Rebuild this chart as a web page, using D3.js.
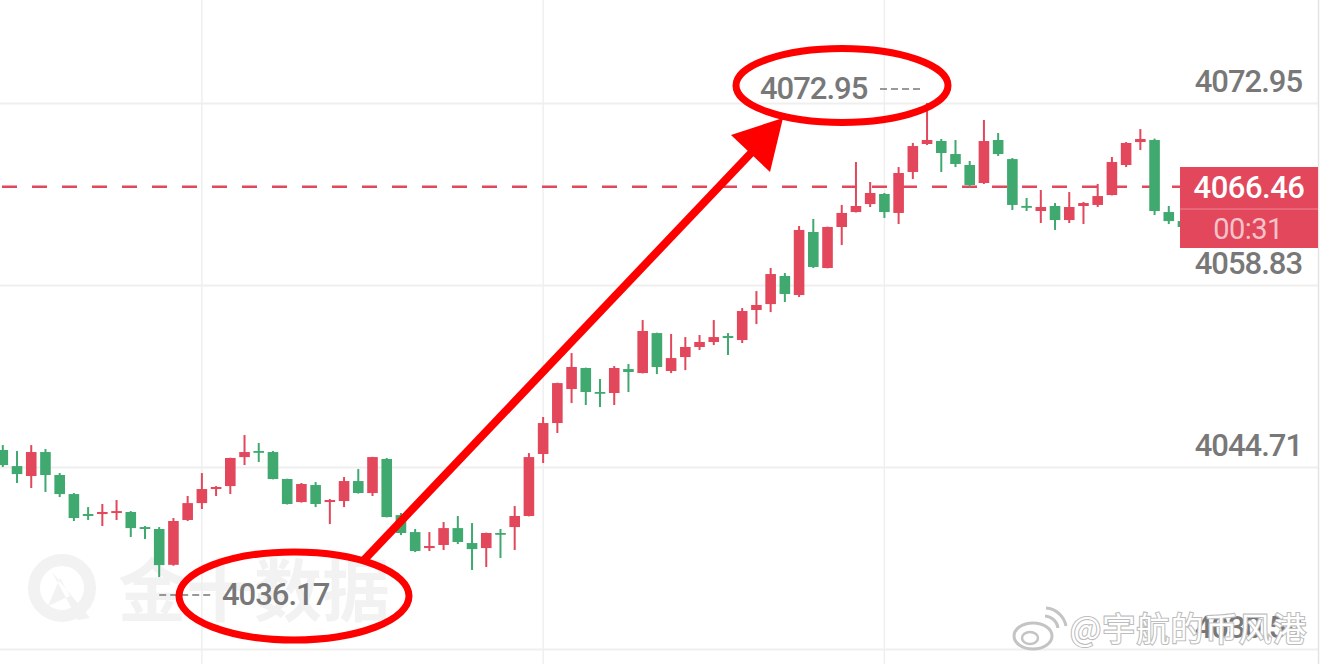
<!DOCTYPE html>
<html>
<head>
<meta charset="utf-8">
<script src="https://cdn.jsdelivr.net/npm/d3@7"></script>
<style>
  body { margin: 0; background: #fff; }
  svg { display: block; }
</style>
</head>
<body>
<svg id="chart" width="1320" height="664"></svg>
<script>
// candle data, left to right (red = up, green = down)
var open = [4046.03, 4044.78, 4044.01, 4045.87, 4044.09, 4042.61, 4041.06, 4041.06, 4041.14, 4041.22,
  4040.05, 4039.90, 4037.12, 4040.60, 4041.91, 4043.00, 4043.23, 4045.48, 4045.95, 4045.87,
  4043.78, 4041.99, 4043.31, 4041.99, 4042.07, 4043.62, 4042.69, 4045.33, 4040.98, 4039.66,
  4038.42, 4038.66, 4039.97, 4038.81, 4038.42, 4039.59, 4040.05, 4040.91, 4045.72, 4048.12,
  4050.76, 4052.39, 4050.53, 4050.45, 4052.31, 4052.00, 4055.10, 4052.16, 4053.24, 4054.02,
  4054.41, 4054.87, 4054.56, 4056.89, 4057.35, 4059.53, 4058.05, 4062.94, 4060.15, 4063.33,
  4064.49, 4065.11, 4065.89, 4064.42, 4067.60, 4069.77, 4070.00, 4068.99, 4068.14, 4066.74,
  4070.08, 4068.60, 4064.96, 4064.57, 4064.96, 4063.87, 4064.96, 4065.04, 4065.81, 4068.14,
  4069.92, 4070.08, 4064.49, 4063.79];
var high = [4046.41, 4045.95, 4046.41, 4046.10, 4044.24, 4042.69, 4041.60, 4041.84, 4042.15, 4041.29,
  4040.13, 4040.05, 4040.75, 4042.46, 4044.24, 4043.23, 4045.43, 4047.19, 4046.57, 4045.95,
  4043.80, 4043.47, 4043.54, 4042.22, 4043.93, 4044.55, 4045.50, 4045.41, 4041.14, 4039.90,
  4039.66, 4040.44, 4040.91, 4040.36, 4039.62, 4039.90, 4041.68, 4045.79, 4048.59, 4051.25,
  4053.55, 4052.42, 4051.54, 4052.54, 4052.70, 4056.11, 4055.13, 4055.03, 4054.79, 4054.95,
  4056.11, 4055.10, 4057.04, 4058.36, 4060.15, 4059.76, 4063.41, 4063.95, 4063.36, 4065.04,
  4068.37, 4066.82, 4065.97, 4067.98, 4069.85, 4072.95, 4070.16, 4070.08, 4068.45, 4071.63,
  4070.62, 4068.68, 4065.58, 4066.20, 4065.19, 4066.04, 4065.27, 4066.67, 4068.76, 4069.92,
  4070.93, 4070.19, 4064.96, 4064.10];
var low = [4044.71, 4043.47, 4043.08, 4042.77, 4042.38, 4040.52, 4040.60, 4040.13, 4040.60, 4039.28,
  4039.12, 4036.17, 4037.05, 4040.52, 4041.45, 4042.46, 4042.61, 4044.86, 4045.10, 4043.75,
  4041.80, 4041.95, 4041.60, 4040.28, 4041.60, 4042.65, 4042.46, 4040.80, 4039.43, 4038.11,
  4038.19, 4038.27, 4038.73, 4036.72, 4036.95, 4037.65, 4038.27, 4040.88, 4045.02, 4047.35,
  4049.67, 4049.52, 4049.36, 4049.52, 4050.53, 4051.97, 4051.92, 4052.00, 4052.23, 4053.79,
  4054.17, 4053.40, 4054.33, 4055.80, 4056.73, 4057.51, 4057.90, 4060.15, 4060.12, 4061.93,
  4064.46, 4064.88, 4064.03, 4063.56, 4067.05, 4069.69, 4067.60, 4067.98, 4066.43, 4066.67,
  4068.84, 4064.65, 4064.57, 4063.64, 4063.10, 4063.64, 4063.56, 4064.88, 4065.78, 4067.98,
  4069.30, 4064.26, 4063.56, 4063.10];
var close = [4044.86, 4044.16, 4045.87, 4044.09, 4042.61, 4040.75, 4040.91, 4041.22, 4041.29, 4039.97,
  4039.90, 4037.10, 4040.52, 4041.91, 4043.00, 4043.16, 4045.41, 4045.87, 4045.87, 4043.78,
  4041.84, 4043.39, 4041.84, 4042.15, 4043.62, 4042.69, 4045.48, 4040.83, 4039.59, 4038.19,
  4038.58, 4039.97, 4038.89, 4038.34, 4039.59, 4039.51, 4040.91, 4045.48, 4048.12, 4051.22,
  4052.47, 4050.53, 4050.45, 4052.39, 4052.08, 4055.26, 4052.47, 4053.16, 4054.02, 4054.41,
  4054.79, 4054.72, 4056.81, 4057.28, 4059.68, 4058.13, 4063.10, 4060.23, 4063.33, 4064.42,
  4064.96, 4065.97, 4064.49, 4067.52, 4069.61, 4070.08, 4069.07, 4068.22, 4066.59, 4070.00,
  4068.99, 4065.04, 4064.88, 4064.88, 4063.87, 4064.88, 4065.19, 4065.73, 4068.37, 4069.85,
  4070.16, 4064.57, 4063.79, 4063.33];

var priceTicks = [4072.95, 4058.83, 4044.71, 4030.59];
var timeGridIndex = [14, 38, 62];
var lastPrice = 4066.46;
var countdown = "00:31";
var maxLabel = "4072.95";
var minLabel = "4036.17";
var jinWatermark = "金十数据";
var weiboMark = "@宇航的币风港";

var RED = "#e2475b", GREEN = "#3fa96f", GRID = "#efefef", TXT = "#787878";
var W = 1320, H = 664, plotRight = 1318;

var svg = d3.select("#chart");
var candles = d3.range(open.length).map(function (i) {
  return { i: i, o: open[i], h: high[i], l: low[i], c: close[i] };
});

var y = d3.scaleLinear().domain([4030.59, 4072.95]).range([649, 103]);
var x = d3.scaleLinear().domain([0, candles.length - 1]).range([2.8, 1183]);
var bodyW = 10.6;

// --- watermark (jin10)
var wm = svg.append("g").attr("fill", "#f2f2f2");
wm.append("circle").attr("cx", 62).attr("cy", 588).attr("r", 28)
  .attr("fill", "none").attr("stroke", "#f2f2f2").attr("stroke-width", 12);
wm.append("path").attr("d", "M52,572 L90,618 L78,620 Z M60,578 L48,606 L70,596 Z");
wm.append("text").attr("x", 118).attr("y", 616)
  .attr("font-family", "Noto Sans CJK SC").attr("font-weight", 700)
  .attr("font-size", 68).text(jinWatermark);

// --- grid
svg.append("g").selectAll("line").data(priceTicks).enter().append("line")
  .attr("x1", 0).attr("x2", plotRight)
  .attr("y1", function (d) { return Math.round(y(d)) + 0.5; })
  .attr("y2", function (d) { return Math.round(y(d)) + 0.5; })
  .attr("stroke", GRID).attr("stroke-width", 2);

svg.append("g").selectAll("line").data(timeGridIndex).enter().append("line")
  .attr("x1", function (d) { return x(d); }).attr("x2", function (d) { return x(d); })
  .attr("y1", 0).attr("y2", H)
  .attr("stroke", GRID).attr("stroke-width", 1.5);

svg.append("line").attr("x1", plotRight + 0.5).attr("x2", plotRight + 0.5)
  .attr("y1", 0).attr("y2", H).attr("stroke", "#e4e4e4").attr("stroke-width", 1.5);

// --- current price dashed line
svg.append("line")
  .attr("x1", 2).attr("x2", 1180)
  .attr("y1", y(lastPrice)).attr("y2", y(lastPrice))
  .attr("stroke", RED).attr("stroke-width", 2.5)
  .attr("stroke-dasharray", "15,15");

// --- candles
var g = svg.append("g");
var k = g.selectAll("g").data(candles).enter().append("g")
  .attr("fill", function (d) { return d.c >= d.o ? RED : GREEN; })
  .attr("stroke", "none");

k.append("rect")
  .attr("x", function (d) { return x(d.i) - 1; })
  .attr("width", 2)
  .attr("y", function (d) { return y(d.h); })
  .attr("height", function (d) { return y(d.l) - y(d.h); });

k.append("rect")
  .attr("x", function (d) { return x(d.i) - bodyW / 2; })
  .attr("width", bodyW)
  .attr("y", function (d) { return y(Math.max(d.o, d.c)); })
  .attr("height", function (d) { return Math.max(1.8, Math.abs(y(d.o) - y(d.c))); });

// --- right axis labels
svg.append("g").selectAll("text").data(priceTicks).enter().append("text")
  .attr("x", 1302).attr("y", function (d) { return y(d) - 11; })
  .attr("text-anchor", "end")
  .attr("font-family", "Roboto").attr("font-weight", 500).attr("font-size", 31)
  .attr("letter-spacing", -1)
  .attr("fill", TXT)
  .text(function (d) { return d.toFixed(2); });

// --- last price box
var box = svg.append("g");
box.append("rect").attr("x", 1180).attr("y", 167).attr("width", plotRight - 1180).attr("height", 81)
  .attr("fill", RED);
box.append("line").attr("x1", 1180).attr("x2", plotRight).attr("y1", 209).attr("y2", 209)
  .attr("stroke", "#ef8795").attr("stroke-width", 1);
box.append("text").attr("x", 1249).attr("y", 198).attr("text-anchor", "middle")
  .attr("font-family", "Roboto").attr("font-weight", 500).attr("font-size", 31)
  .attr("letter-spacing", -0.5).attr("fill", "#fff").text(lastPrice.toFixed(2));
box.append("text").attr("x", 1248).attr("y", 239).attr("text-anchor", "middle")
  .attr("font-family", "Roboto").attr("font-size", 29)
  .attr("letter-spacing", -0.5).attr("fill", "#f6c3ca").text(countdown);

// --- max / min markers
var iMax = d3.maxIndex(high), iMin = d3.minIndex(low);
svg.append("text").attr("x", 760).attr("y", 99)
  .attr("font-family", "Roboto").attr("font-weight", 500).attr("font-size", 31).attr("letter-spacing", -1)
  .attr("fill", TXT).text(maxLabel);
svg.append("line").attr("x1", 880).attr("x2", x(iMax) - 6).attr("y1", 89).attr("y2", 89)
  .attr("stroke", TXT).attr("stroke-width", 1.6).attr("stroke-dasharray", "7,4");

svg.append("text").attr("x", 222).attr("y", 605)
  .attr("font-family", "Roboto").attr("font-weight", 500).attr("font-size", 31).attr("letter-spacing", -1)
  .attr("fill", TXT).text(minLabel);
svg.append("line").attr("x1", x(iMin)).attr("x2", 214).attr("y1", 595).attr("y2", 595)
  .attr("stroke", TXT).attr("stroke-width", 1.6).attr("stroke-dasharray", "7,4");

// --- weibo watermark
var wb = svg.append("g");
wb.append("ellipse").attr("cx", 1033).attr("cy", 636).attr("rx", 19).attr("ry", 13)
  .attr("fill", "#fff").attr("stroke", "#c4c4c4").attr("stroke-width", 3);
wb.append("ellipse").attr("cx", 1030).attr("cy", 638).attr("rx", 8).attr("ry", 6)
  .attr("fill", "none").attr("stroke", "#c4c4c4").attr("stroke-width", 2.5);
wb.append("path").attr("d", "M1045,616 A14,14 0 0 1 1058,628 M1046,608 A22,22 0 0 1 1066,626")
  .attr("fill", "none").attr("stroke", "#c4c4c4").attr("stroke-width", 3);
wb.append("text").attr("x", 1070).attr("y", 641)
  .attr("font-family", "Noto Sans CJK SC").attr("font-size", 33)
  .attr("fill", "#fff").attr("stroke", "#bdbdbd").attr("stroke-width", 2.2)
  .attr("paint-order", "stroke").attr("textLength", 236)
  .text(weiboMark);

// --- hand-drawn annotation
var ann = svg.append("g").attr("stroke", "#ff0000").attr("fill", "none");
ann.append("ellipse").attr("cx", 842).attr("cy", 85.5).attr("rx", 106).attr("ry", 37)
  .attr("stroke-width", 7);
ann.append("ellipse").attr("cx", 294).attr("cy", 596).attr("rx", 115).attr("ry", 44)
  .attr("stroke-width", 7);
ann.append("line").attr("x1", 364).attr("y1", 560).attr("x2", 752).attr("y2", 152)
  .attr("stroke-width", 8);
svg.append("path").attr("d", "M783,118 L731,135 L770,172 Z").attr("fill", "#ff0000");
</script>
</body>
</html>
